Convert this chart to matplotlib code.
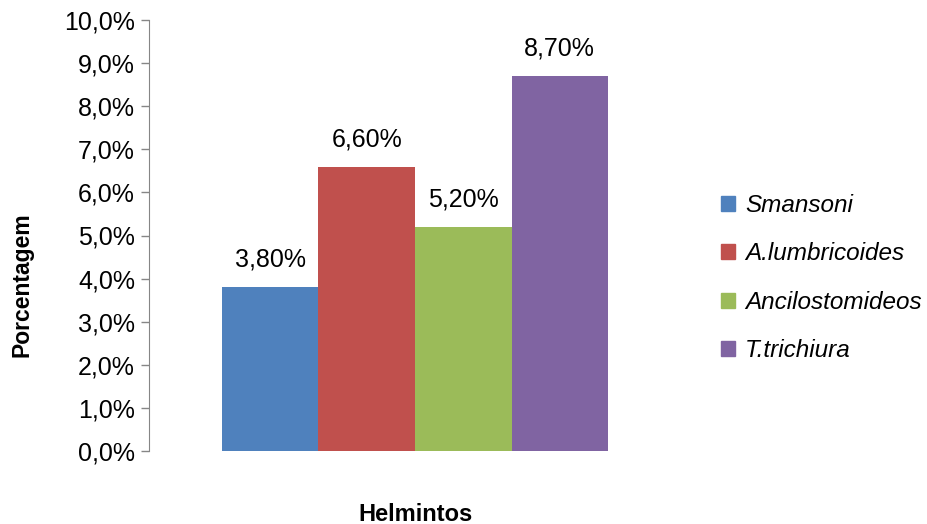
import numpy as np
import matplotlib.pyplot as plt
from matplotlib.patches import Patch
from matplotlib.ticker import FuncFormatter

plt.rcParams['font.family'] = ['Liberation Sans', 'DejaVu Sans']

# data
helmintos = ['Smansoni', 'A.lumbricoides', 'Ancilostomideos', 'T.trichiura']
valores = [3.8, 6.6, 5.2, 8.7]
rotulos = ['3,80%', '6,60%', '5,20%', '8,70%']
cores = ['#4F81BD', '#C0504D', '#9BBB59', '#8064A2']

fig = plt.figure(figsize=(9.27, 5.24), dpi=100)
ax = fig.add_axes([149 / 927, 73 / 524, 532 / 927, 431 / 524])

x = np.arange(len(valores))
bars = ax.bar(x, valores, width=1.0, color=cores)

for b, txt in zip(bars, rotulos):
    ax.annotate(txt, (b.get_x() + b.get_width() / 2, b.get_height()),
                xytext=(0, 11), textcoords='offset points',
                ha='center', va='bottom', fontsize=18)

ax.set_ylim(0, 10)
ax.set_xlim(-1.256, 4.256)
ax.set_yticks(np.arange(0, 11, 1))
ax.yaxis.set_major_formatter(FuncFormatter(lambda v, p: f'{v:.1f}%'.replace('.', ',')))
ax.tick_params(axis='y', labelsize=18, length=6, width=1, color='#868686', pad=4)
ax.set_xticks([])

for s in ['top', 'right', 'bottom']:
    ax.spines[s].set_visible(False)
ax.spines['left'].set_color('#868686')

ax.set_ylabel('Porcentagem', fontsize=16.5, fontweight='bold')
ax.yaxis.set_label_coords(-0.218, 0.385)
ax.set_xlabel('Helmintos', fontsize=17, fontweight='bold')
ax.xaxis.set_label_coords(0.5, -0.12)

handles = [Patch(color=c, label=h) for c, h in zip(cores, helmintos)]
leg = fig.legend(handles=handles, loc='center left', bbox_to_anchor=(699 / 927, 246 / 524),
                 frameon=False, prop={'size': 17.5, 'style': 'italic'},
                 handlelength=0.57, handleheight=0.57, handletextpad=0.42, labelspacing=1.04)

fig.savefig('out.png', dpi=100)
